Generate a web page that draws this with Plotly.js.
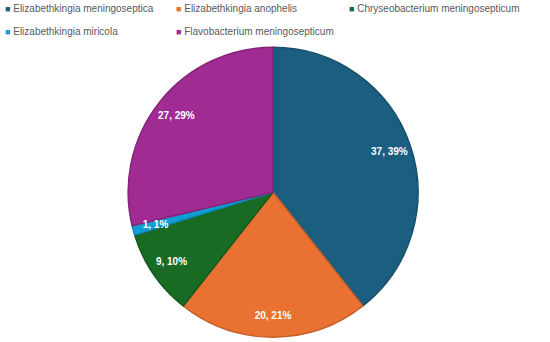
<!DOCTYPE html>
<html>
<head>
<meta charset="utf-8">
<script src="https://cdn.plot.ly/plotly-3.0.1.min.js"></script>
<style>html,body{margin:0;padding:0;background:#fff;}#chart{width:550px;height:342px;}</style>
</head>
<body>
<div id="chart"></div>
<script>
const labels = ["Elizabethkingia meningoseptica", "Elizabethkingia anophelis", "Chryseobacterium meningosepticum", "Elizabethkingia miricola", "Flavobacterium meningosepticum"];
const values = [37, 20, 9, 1, 27];
const colors = ["#1B5E80", "#E97132", "#196B24", "#0F9ED5", "#A02B93"];
const borderColors = ["#174F6B", "#C75F28", "#15591E", "#0D85B3", "#86247B"];
const transparent = labels.map(() => "rgba(0,0,0,0)");

const W = 550, H = 342;
const dom = {x: [0.233, 0.76], y: [0.013, 0.863]};
// slightly smaller concentric domain used only to carry the tiny slice's label further inward
const innerDom = {x: [0.2675, 0.7256], y: [0.0685, 0.8076]};
const labelTemplate = "%{value}, %{percent:.0%}";
const smallSlice = 3;

const pie = {
  type: "pie",
  labels: labels,
  values: values,
  sort: false,
  direction: "clockwise",
  rotation: 0,
  marker: {colors: colors, line: {color: borderColors, width: 1.5}},
  textinfo: "none",
  hoverinfo: "label+value+percent",
  domain: dom
};

function labelRing(hole, domain, show) {
  return {
    type: "pie",
    labels: labels,
    values: values,
    sort: false,
    direction: "clockwise",
    rotation: 0,
    hole: hole,
    marker: {colors: transparent, line: {width: 0}},
    texttemplate: labels.map((_, i) => show(i) ? labelTemplate : " "),
    textposition: "inside",
    insidetextorientation: "horizontal",
    textfont: {family: "Liberation Sans, Arial, sans-serif", size: 10, color: "#ffffff", weight: "bold"},
    hoverinfo: "skip",
    domain: domain
  };
}

const outerLabels = labelRing(0.7, dom, i => i !== smallSlice);
const innerLabels = labelRing(0, innerDom, i => i === smallSlice);

// legend laid out in a 3-column grid like the original
const legendCols = [3, 174, 347];
const legendRows = [9, 31];
const annotations = labels.map((lab, i) => ({
  xref: "paper", yref: "paper",
  x: legendCols[i % 3] / W,
  y: 1 - legendRows[Math.floor(i / 3)] / H,
  xanchor: "left", yanchor: "middle",
  showarrow: false,
  align: "left",
  text: '<span style="color:' + colors[i] + ';font-size:9px">■</span> ' + lab,
  font: {family: "Liberation Sans, Arial, sans-serif", size: 10, color: "#595959"}
}));

const layout = {
  width: W, height: H,
  margin: {l: 0, r: 0, t: 0, b: 0},
  paper_bgcolor: "#ffffff",
  showlegend: false,
  uniformtext: {minsize: 10, mode: "show"},
  annotations: annotations
};

Plotly.newPlot("chart", [pie, outerLabels, innerLabels], layout, {displayModeBar: false, staticPlot: true});
</script>
</body>
</html>
